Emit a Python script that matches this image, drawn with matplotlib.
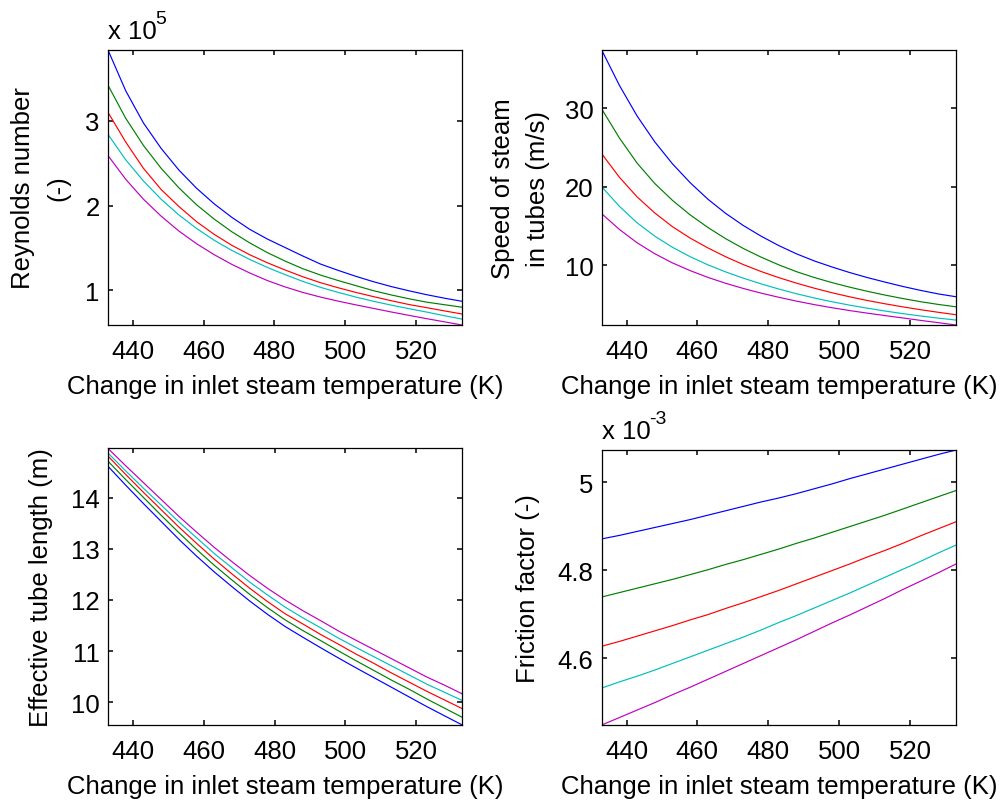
import matplotlib
matplotlib.use("Agg")
import matplotlib.pyplot as plt
from matplotlib.ticker import FixedLocator, FuncFormatter

plt.rcParams['font.family'] = ['Liberation Sans', 'DejaVu Sans']

# Inlet steam temperature (K)
temps = [433, 438, 443, 448, 453, 458, 463, 468, 473, 478, 483,
         488, 493, 498, 503, 508, 513, 518, 523, 528, 533]

# Reynolds number, in units of 1e5
re_1 = [3.835, 3.355, 2.975, 2.675, 2.42, 2.205, 2.02, 1.86, 1.72, 1.605, 1.505,
        1.405, 1.31, 1.235, 1.165, 1.101, 1.044, 0.994, 0.948, 0.907, 0.87]
re_2 = [3.42, 3.03, 2.71, 2.44, 2.21, 2.01, 1.84, 1.69, 1.56, 1.445, 1.345,
        1.255, 1.18, 1.115, 1.055, 0.995, 0.945, 0.90, 0.86, 0.83, 0.80]
re_3 = [3.10, 2.75, 2.44, 2.19, 1.99, 1.81, 1.66, 1.53, 1.42, 1.325, 1.24,
        1.16, 1.09, 1.03, 0.975, 0.925, 0.877, 0.832, 0.795, 0.757, 0.72]
re_4 = [2.84, 2.54, 2.29, 2.075, 1.89, 1.73, 1.59, 1.47, 1.365, 1.27, 1.185,
        1.105, 1.035, 0.975, 0.92, 0.87, 0.825, 0.783, 0.743, 0.70, 0.66]
re_5 = [2.59, 2.31, 2.075, 1.875, 1.70, 1.55, 1.42, 1.305, 1.205, 1.115, 1.04,
        0.975, 0.92, 0.872, 0.828, 0.786, 0.744, 0.704, 0.665, 0.628, 0.59]

# Speed of steam in tubes (m/s)
v_1 = [37.4, 32.9, 29.0, 25.7, 22.9, 20.5, 18.4, 16.6, 15.05, 13.7, 12.5,
       11.45, 10.55, 9.78, 9.07, 8.43, 7.85, 7.3, 6.8, 6.35, 5.99]
v_2 = [29.9, 26.2, 23.0, 20.4, 18.25, 16.4, 14.8, 13.38, 12.13, 11.03, 10.05,
       9.18, 8.44, 7.79, 7.21, 6.68, 6.20, 5.76, 5.36, 5.01, 4.71]
v_3 = [24.2, 21.2, 18.7, 16.65, 14.9, 13.45, 12.2, 11.08, 10.08, 9.2, 8.42,
       7.72, 7.08, 6.5, 5.98, 5.51, 5.09, 4.70, 4.34, 4.01, 3.70]
v_4 = [20.0, 17.5, 15.4, 13.7, 12.28, 11.08, 10.05, 9.15, 8.35, 7.63, 6.97,
       6.37, 5.83, 5.35, 4.92, 4.53, 4.17, 3.84, 3.54, 3.27, 3.02]
v_5 = [16.56, 14.56, 12.86, 11.46, 10.29, 9.31, 8.45, 7.70, 7.04, 6.45, 5.92,
       5.43, 4.99, 4.59, 4.23, 3.90, 3.59, 3.29, 2.98, 2.69, 2.39]

# Effective tube length (m)
len_1 = [14.62, 14.25, 13.89, 13.54, 13.19, 12.86, 12.55, 12.26, 11.98, 11.72, 11.48,
         11.27, 11.065, 10.865, 10.67, 10.48, 10.29, 10.10, 9.91, 9.73, 9.55]
len_2 = [14.72, 14.36, 14.01, 13.66, 13.32, 12.99, 12.68, 12.39, 12.11, 11.85, 11.61,
         11.40, 11.205, 11.005, 10.81, 10.62, 10.43, 10.25, 10.06, 9.88, 9.70]
len_3 = [14.82, 14.46, 14.11, 13.77, 13.43, 13.11, 12.80, 12.51, 12.23, 11.97, 11.73,
         11.53, 11.325, 11.135, 10.94, 10.76, 10.57, 10.39, 10.21, 10.04, 9.87]
len_4 = [14.88, 14.53, 14.19, 13.86, 13.53, 13.22, 12.91, 12.63, 12.35, 12.10, 11.86,
         11.65, 11.455, 11.255, 11.07, 10.89, 10.71, 10.53, 10.35, 10.19, 10.03]
len_5 = [14.97, 14.63, 14.30, 13.97, 13.64, 13.33, 13.03, 12.75, 12.48, 12.23, 12.00,
         11.79, 11.595, 11.395, 11.21, 11.03, 10.85, 10.67, 10.49, 10.33, 10.16]

# Friction factor, in units of 1e-3
f_1 = [4.871, 4.879, 4.888, 4.897, 4.906, 4.915, 4.925, 4.935, 4.945, 4.955, 4.964,
       4.974, 4.985, 4.996, 5.008, 5.019, 5.030, 5.041, 5.052, 5.063, 5.073]
f_2 = [4.739, 4.749, 4.759, 4.769, 4.779, 4.790, 4.801, 4.813, 4.824, 4.836, 4.848,
       4.861, 4.873, 4.886, 4.899, 4.912, 4.925, 4.939, 4.953, 4.967, 4.981]
f_3 = [4.627, 4.638, 4.650, 4.662, 4.674, 4.687, 4.699, 4.713, 4.726, 4.740, 4.754,
       4.769, 4.784, 4.799, 4.814, 4.830, 4.845, 4.861, 4.878, 4.894, 4.910]
f_4 = [4.532, 4.546, 4.559, 4.573, 4.588, 4.603, 4.618, 4.633, 4.648, 4.664, 4.681,
       4.697, 4.714, 4.731, 4.748, 4.766, 4.784, 4.802, 4.820, 4.839, 4.857]
f_5 = [4.448, 4.465, 4.482, 4.499, 4.517, 4.534, 4.552, 4.570, 4.588, 4.606, 4.624,
       4.642, 4.661, 4.680, 4.698, 4.717, 4.736, 4.756, 4.775, 4.794, 4.814]

x_ticks = [440, 460, 480, 500, 520]
x_label = 'Change in inlet steam temperature (K)'
line_colors = [(0, 0, 1), (0, 0.5, 0), (1, 0, 0), (0, 0.75, 0.75), (0.75, 0, 0.75)]

FS = 18.5

fig = plt.figure(figsize=(10, 8.04), dpi=100)
fig.patch.set_facecolor('white')

positions = {
    'tl': [0.108, 0.5945, 0.354, 0.342],
    'tr': [0.6017, 0.5945, 0.3543, 0.342],
    'bl': [0.108, 0.097, 0.3543, 0.344],
    'br': [0.6017, 0.097, 0.3543, 0.342],
}


def setup(ax, series, yticks, ylabel, ylab_x, scale_exp=None):
    for s, c in zip(series, line_colors):
        ax.plot(temps, s, color=c, lw=0.85)
    ax.set_xlim(temps[0], temps[-1])
    lo = min(min(s) for s in series)
    hi = max(max(s) for s in series)
    ax.set_ylim(lo, hi)
    ax.xaxis.set_major_locator(FixedLocator(x_ticks))
    ax.yaxis.set_major_locator(FixedLocator(yticks))
    ax.yaxis.set_major_formatter(FuncFormatter(lambda v, p: f'{v:g}'))
    ax.tick_params(which='both', direction='in', top=True, right=True,
                   length=3.5, width=1.1, labelsize=FS, colors='black')
    ax.tick_params(axis='x', pad=10)
    ax.tick_params(axis='y', pad=6)
    for sp in ax.spines.values():
        sp.set_linewidth(0.9)
        sp.set_color('black')
    ax.set_xlabel(x_label, fontsize=FS)
    ax.xaxis.set_label_coords(0.5, -0.178)
    ax.set_ylabel(ylabel, fontsize=FS, linespacing=1.6)
    ax.yaxis.set_label_coords(ylab_x, 0.5)
    if scale_exp is not None:
        ax.annotate('x 10', xy=(0, 1), xycoords='axes fraction',
                    xytext=(0, 8.4), textcoords='offset points',
                    ha='left', va='baseline', fontsize=FS)
        ax.annotate(scale_exp, xy=(0, 1), xycoords='axes fraction',
                    xytext=(34, 19.5), textcoords='offset points',
                    ha='left', va='baseline', fontsize=14)


ax1 = fig.add_axes(positions['tl'])
setup(ax1, [re_1, re_2, re_3, re_4, re_5], [1, 2, 3],
      'Reynolds number\n(-)', -0.107, scale_exp='5')

ax2 = fig.add_axes(positions['tr'])
setup(ax2, [v_1, v_2, v_3, v_4, v_5], [10, 20, 30],
      'Speed of steam\nin tubes (m/s)', -0.146)

ax3 = fig.add_axes(positions['bl'])
setup(ax3, [len_1, len_2, len_3, len_4, len_5], [10, 11, 12, 13, 14],
      'Effective tube length (m)', -0.154)

ax4 = fig.add_axes(positions['br'])
setup(ax4, [f_1, f_2, f_3, f_4, f_5], [4.6, 4.8, 5.0],
      'Friction factor (-)', -0.174, scale_exp='-3')

fig.savefig('out.png', dpi=100, facecolor='white')
